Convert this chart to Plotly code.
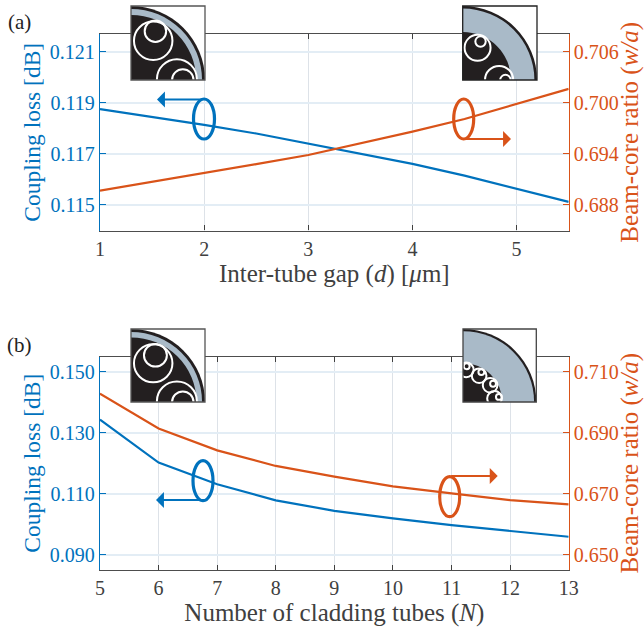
import plotly.graph_objects as go

W, H = 644, 627
BLUE, ORANGE = "#0072BD", "#D95319"
INK, FRAME = "#404040", "#4d4d4d"
GRID_V, GRID_H = "#dde2e8", "#e3edf5"
GLASS, JACKET = "#a9bac8", "#231f20"
FONT = "Liberation Serif"

# ---- panel (a) ----
gap = [1, 2, 2.5, 3, 3.5, 4, 4.5, 5, 5.5]
gap_loss = [0.11876, 0.11814, 0.1178, 0.1174, 0.11702, 0.11661, 0.11615, 0.11563, 0.11512]
gap_ratio = [0.68968, 0.69173, 0.6928, 0.69388, 0.69524, 0.69662, 0.6981, 0.69988, 0.70165]
gap_ticks = [1, 2, 3, 4, 5]
gap_loss_ticks = [0.115, 0.117, 0.119, 0.121]
gap_ratio_ticks = [0.688, 0.694, 0.700, 0.706]

# ---- panel (b) ----
tubes = [5, 6, 7, 8, 9, 10, 11, 12, 13]
tube_loss = [0.1343, 0.1202, 0.1131, 0.1078, 0.1044, 0.1019, 0.0997, 0.0978, 0.0959]
tube_ratio = [0.7028, 0.6914, 0.6842, 0.6791, 0.6756, 0.6724, 0.6701, 0.6679, 0.6665]
tube_loss_ticks = [0.090, 0.110, 0.130, 0.150]
tube_ratio_ticks = [0.650, 0.670, 0.690, 0.710]

# inset cross-sections: ring radii and (cx, cy, r) white circles
inset_a_left = dict(box=(131, 205, 6, 80), ring=(0.96, 0.88), edge="#555555",
    circles=[(.30, .53, .26), (.33, .66, .145), (.62, .01, .27), (.70, 0, .145)])
inset_a_right = dict(box=(462.7, 537, 6, 80), ring=(0.965, 0.65), edge="#222222",
    circles=[(.2, .435, .175), (.24, .52, .07), (.49, 0, .19), (.575, 0, .07)])
inset_b_left = dict(box=(131, 205, 329, 402), ring=(0.96, 0.885), edge="#555555",
    circles=[(.30, .53, .26), (.33, .64, .155), (.62, .01, .27), (.70, 0, .145)])
inset_b_right = dict(box=(463, 536.3, 329, 402), ring=(0.97, 0.535), edge="#444444",
    circles=[(.045, .44, .1), (.05, .49, .04), (.22, .36, .1), (.25, .41, .04),
             (.37, .23, .1), (.41, .25, .04), (.43, .05, .1), (.49, .07, .04)])

fig = go.Figure()
def xf(p): return p / W
def yf(p): return 1 - p / H

def panel(n, top, bot, x, y1, y2, xr, y1r, y2r, xticks, y1t, y2t, xtitle):
    xa, ya, yb = f"x{n}", f"y{n}", f"y{n+1}"
    fig.add_trace(go.Scatter(x=x, y=y1, mode="lines", line=dict(color=BLUE, width=2.2), xaxis=xa, yaxis=ya, showlegend=False))
    fig.add_trace(go.Scatter(x=x, y=y2, mode="lines", line=dict(color=ORANGE, width=2.2), xaxis=xa, yaxis=yb, showlegend=False))
    fig.layout[f"xaxis{n}"] = dict(domain=[xf(100), xf(568.7)], range=xr, anchor=ya, tickvals=xticks, automargin=False,
        ticks="inside", ticklen=5, tickcolor=INK, showline=True, linecolor=FRAME, linewidth=1.3, mirror="ticks",
        showgrid=True, gridcolor=GRID_V, gridwidth=1, zeroline=False, tickfont=dict(family=FONT, size=20, color=INK),
        title=dict(text=xtitle, font=dict(family=FONT, size=25, color=INK), standoff=3))
    fig.layout[f"yaxis{n}"] = dict(domain=[yf(bot), yf(top)], range=y1r, anchor=xa, tickvals=y1t, tickformat=".3f", automargin=False,
        ticks="inside", ticklen=6, tickcolor=BLUE, showline=True, linecolor=BLUE, linewidth=1.3,
        showgrid=True, gridcolor=GRID_H, gridwidth=1.5, zeroline=False, tickfont=dict(family=FONT, size=20, color=BLUE),
        title=dict(text="Coupling loss [dB]", font=dict(family=FONT, size=23.5, color=BLUE), standoff=2))
    fig.layout[f"yaxis{n+1}"] = dict(domain=[yf(bot), yf(top)], range=y2r, anchor=xa, overlaying=ya, side="right", tickvals=y2t, tickformat=".3f", automargin=False,
        ticks="inside", ticklen=6, tickcolor=ORANGE, showline=True, linecolor=ORANGE, linewidth=1.3,
        showgrid=False, zeroline=False, tickfont=dict(family=FONT, size=20, color=ORANGE),
        title=dict(text="Beam-core ratio (<i>w/a</i>)", font=dict(family=FONT, size=25, color=ORANGE), standoff=10))

panel(1, 34, 230.5, gap, gap_loss, gap_ratio, [1, 5.5], [0.114, 0.1217], [0.685, 0.7081], gap_ticks,
      gap_loss_ticks, gap_ratio_ticks, "Inter-tube gap (<i>d</i>) [<i>μ</i>m]")
panel(3, 356.7, 569.7, tubes, tube_loss, tube_ratio, [5, 13], [0.0851, 0.1549], [0.6451, 0.7149], tubes,
      tube_loss_ticks, tube_ratio_ticks, "Number of cladding tubes (<i>N</i>)")

shapes, annos = [], []

def inset(n, spec):
    x0, x1, y0, y1 = spec["box"]
    xa, ya = f"x{n}", f"y{n}"
    fig.layout[f"xaxis{n}"] = dict(domain=[xf(x0), xf(x1)], range=[0, 1], anchor=ya, visible=False, fixedrange=True)
    fig.layout[f"yaxis{n}"] = dict(domain=[yf(y1), yf(y0)], range=[0, 1], anchor=xa, visible=False, fixedrange=True)
    fig.add_trace(go.Scatter(x=[0, 1], y=[0, 1], mode="markers", marker=dict(opacity=0), xaxis=xa, yaxis=ya,
                             showlegend=False, hoverinfo="skip"))
    ref = dict(xref=xa, yref=ya, layer="above")
    shapes.append(dict(type="rect", x0=0, x1=1, y0=0, y1=1, fillcolor="white", line_width=0, **ref))
    shapes.append(dict(type="circle", x0=-1, x1=1, y0=-1, y1=1, fillcolor=JACKET, line_width=0, **ref))
    ro, ri = spec["ring"]
    shapes.append(dict(type="circle", x0=-ro, x1=ro, y0=-ro, y1=ro, fillcolor=GLASS, line_width=0, **ref))
    shapes.append(dict(type="circle", x0=-ri, x1=ri, y0=-ri, y1=ri, fillcolor=JACKET, line_width=0, **ref))
    for cx, cy, r in spec["circles"]:
        shapes.append(dict(type="circle", x0=cx - r, x1=cx + r, y0=cy - r, y1=cy + r,
                           fillcolor="rgba(0,0,0,0)", line=dict(color="white", width=2), **ref))
    shapes.append(dict(type="rect", xref="paper", yref="paper", layer="above", x0=xf(x0), x1=xf(x1), y0=yf(y1), y1=yf(y0),
                       line=dict(color=spec["edge"], width=1.3), fillcolor="rgba(0,0,0,0)"))

inset(5, inset_a_left)
inset(6, inset_a_right)
inset(7, inset_b_left)
inset(8, inset_b_right)

def marker(cx, cy, rx, ry, ax0, ax1, ay, color):
    shapes.append(dict(type="circle", xref="paper", yref="paper", layer="above",
                       x0=xf(cx - rx), x1=xf(cx + rx), y0=yf(cy + ry), y1=yf(cy - ry),
                       line=dict(color=color, width=3.2), fillcolor="rgba(0,0,0,0)"))
    annos.append(dict(xref="paper", yref="paper", x=xf(ax1), y=yf(ay), ax=ax0 - ax1, ay=0, text="", showarrow=True,
                      arrowhead=1, arrowsize=1.2, arrowwidth=2.2, arrowcolor=color, standoff=0))

marker(204, 119, 10.5, 20, 204, 157, 99.5, BLUE)
marker(463.7, 119, 10, 20, 463.7, 511, 139, ORANGE)
marker(203, 480.7, 10, 20, 203, 156, 500, BLUE)
marker(449.7, 496.7, 10, 20, 449.7, 497.7, 476, ORANGE)

for label, px, py in [("(a)", 19, 22), ("(b)", 19, 345)]:
    annos.append(dict(xref="paper", yref="paper", x=xf(px), y=yf(py), text=label, showarrow=False,
                      font=dict(family=FONT, size=21, color="#222222"), xanchor="center", yanchor="middle"))

fig.update_layout(width=W, height=H, margin=dict(l=0, r=0, t=0, b=0), paper_bgcolor="white", plot_bgcolor="white",
                  shapes=shapes, annotations=annos, showlegend=False, hovermode=False)
fig.write_html("out.html", post_script="document.body.style.margin='0';", config={"displayModeBar": False})
